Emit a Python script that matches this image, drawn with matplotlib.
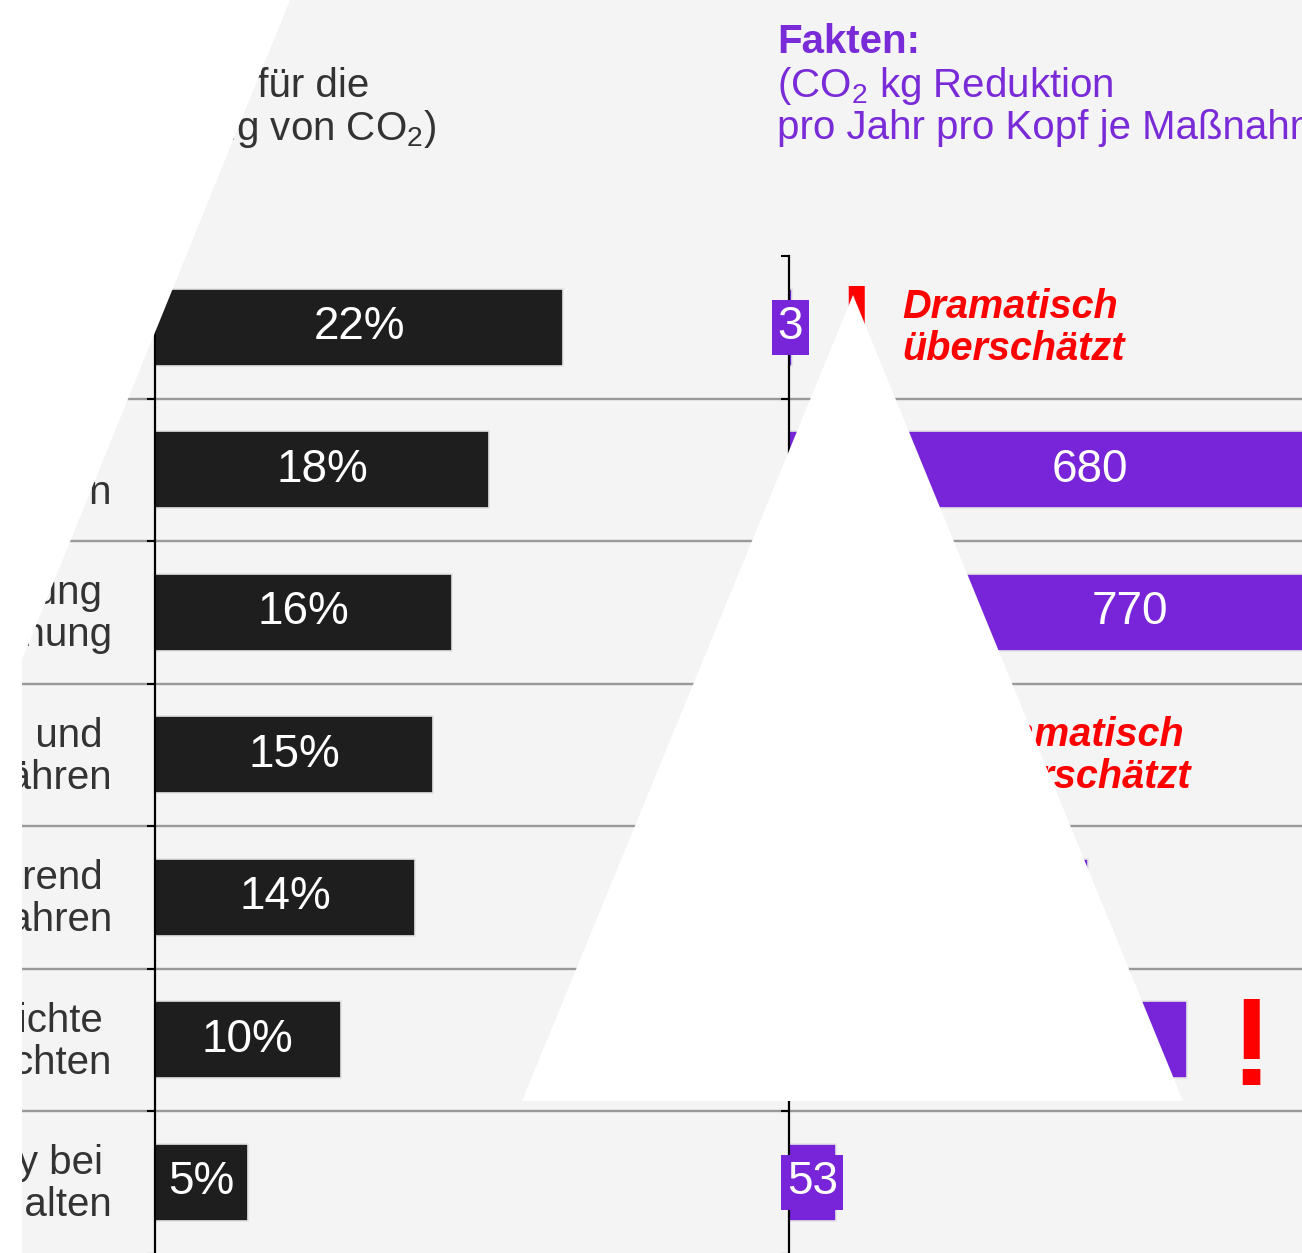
import matplotlib
matplotlib.use('Agg')
import matplotlib.pyplot as plt
from matplotlib.patches import Polygon

plt.rcParams['font.family'] = ['Liberation Sans', 'DejaVu Sans']
plt.rcParams['mathtext.fontset'] = 'custom'
plt.rcParams['mathtext.rm'] = 'Liberation Sans'
plt.rcParams['mathtext.it'] = 'Liberation Sans:italic'
plt.rcParams['mathtext.bf'] = 'Liberation Sans:bold'

# ---------------- data ----------------
categories = [
    "Plastiktüten\nvermeiden",
    "Ökostrom\nbeziehen",
    "Wärmedämmung\nder Wohnung",
    "Regional und\nsaisonal ernähren",
    "Spritsparend\nAuto fahren",
    "Auf Fertiggerichte\nverzichten",
    "Standby bei\nGeräten ausschalten",
]
survey_pct = [22, 18, 16, 15, 14, 10, 5]
fact_kg = [3, 680, 770, 77, 338, 450, 53]
note_marks = ["!", "", "", "!", "", "!", ""]
note_texts = ["Dramatisch\nüberschätzt", "", "", "Dramatisch\nüberschätzt", "", "", ""]

left_title = ["Meinung:", "(Wichtigkeit für die", "Verringerung von CO$_2$)"]
right_title = ["Fakten:", "(CO$_2$ kg Reduktion", "pro Jahr pro Kopf je Maßnahme)"]

# ---------------- style ----------------
BG = "#f4f4f4"
BLACK_BAR = "#1e1e1e"
PURPLE = "#7825da"
PURPLE_TXT = "#7a2bd8"
RED = "#ff0000"
DARK = "#333333"
GRID = "#999999"

W, H, DPI = 1302, 1253, 100
PT = 72.0 / DPI  # points per pixel

fig = plt.figure(figsize=(W / DPI, H / DPI), dpi=DPI, facecolor=BG)


def fx(px):
    return px / W


def fy(py):
    return 1 - py / H


n = len(categories)
top_px, bottom_px = 256, 1253.5
ax_bottom = fy(bottom_px)
ax_h = fy(top_px) - ax_bottom

# separator lines across full width
bg = fig.add_axes([0, ax_bottom, 1, ax_h], zorder=0)
bg.set_xlim(0, 1)
bg.set_ylim(n - 0.5, -0.5)
bg.axis("off")
for k in range(1, n):
    bg.axhline(k - 0.5, color=GRID, lw=1.7)

ax1 = fig.add_axes([fx(155), ax_bottom, fx(700 - 155), ax_h], zorder=1)
ax2 = fig.add_axes([fx(789), ax_bottom, fx(W - 789), ax_h], zorder=1)

for ax in (ax1, ax2):
    ax.patch.set_visible(False)
    ax.set_ylim(n - 0.5, -0.5)
    for s in ("top", "right", "bottom"):
        ax.spines[s].set_visible(False)
    ax.spines["left"].set_linewidth(1.6)
    ax.spines["left"].set_color("black")
    ax.set_xticks([])
    ax.set_yticks([k - 0.5 for k in range(n + 1)])
    ax.set_yticklabels([])
    ax.tick_params(axis="y", direction="out", length=6, width=1.5, color="black")

ax1.set_xlim(0, (700 - 155) / 18.56)
ax2.set_xlim(0, (W - 789) / 0.885)

BAR_H = 0.54
ax1.barh(range(n), survey_pct, height=BAR_H, color=BLACK_BAR, edgecolor="#e4e4e4", lw=1.2, zorder=2)
ax2.barh(range(n), fact_kg, height=BAR_H, color=PURPLE, edgecolor="#e4e4e4", lw=1.2, zorder=2)

for i, v in enumerate(survey_pct):
    ax1.text(v / 2, i, f"{v}%", ha="center", va="center", color="white", fontsize=33, zorder=3)

for i, v in enumerate(fact_kg):
    ax2.text(v / 2, i, f"{v}", ha="center", va="center", color="white", fontsize=33, zorder=3,
             bbox=dict(boxstyle="square,pad=0.12", fc=PURPLE, ec="none"))

# notes
for i, v in enumerate(fact_kg):
    if note_marks[i]:
        ax2.annotate(note_marks[i], xy=(v, i), xytext=(64 * PT, -45 * PT), textcoords="offset points",
                     ha="center", va="baseline", color=RED, fontsize=90, fontweight="bold",
                     annotation_clip=False, zorder=4)
    if note_texts[i]:
        for j, line in enumerate(note_texts[i].split("\n")):
            dy = [-9, 33][j]
            ax2.annotate(line, xy=(v, i), xytext=(111 * PT, -dy * PT), textcoords="offset points",
                         ha="left", va="baseline", color=RED, fontsize=28.5, fontweight="bold",
                         fontstyle="italic", annotation_clip=False, zorder=4)

# category labels, right aligned (wrapped first line keeps a trailing gap)
for i, lab in enumerate(categories):
    lines = lab.split("\n")
    for j, line in enumerate(lines):
        dy = [-8, 34][j]
        dx = [-52, -43][j]
        ax1.annotate(line, xy=(0, i), xycoords=("axes fraction", "data"),
                     xytext=(dx * PT, -dy * PT), textcoords="offset points",
                     ha="right", va="baseline", color=DARK, fontsize=29, annotation_clip=False)

# titles
fig.text(fx(30), fy(53), left_title[0], ha="left", va="baseline", color=DARK, fontsize=29, fontweight="bold")
fig.text(fx(369), fy(97), left_title[1], ha="right", va="baseline", color=DARK, fontsize=29)
fig.text(fx(436), fy(140), left_title[2], ha="right", va="baseline", color=DARK, fontsize=29)

fig.text(fx(777), fy(53), right_title[0], ha="left", va="baseline", color=PURPLE_TXT, fontsize=29, fontweight="bold")
fig.text(fx(777), fy(97), right_title[1], ha="left", va="baseline", color=PURPLE_TXT, fontsize=29)
fig.text(fx(777), fy(139), right_title[2], ha="left", va="baseline", color=PURPLE_TXT, fontsize=29)

# white occluding shapes present in the reference picture
left_mask = [(0, 0), (290, 0), (22, 660), (22, H), (0, H)]
tri_mask = [(853, 295), (522, 1101), (1183, 1101)]
for poly in (left_mask, tri_mask):
    fig.add_artist(Polygon([(fx(x), fy(y)) for x, y in poly], closed=True,
                           transform=fig.transFigure, facecolor="white", edgecolor="none", zorder=10))

fig.savefig("out.png", dpi=DPI, facecolor=BG)
